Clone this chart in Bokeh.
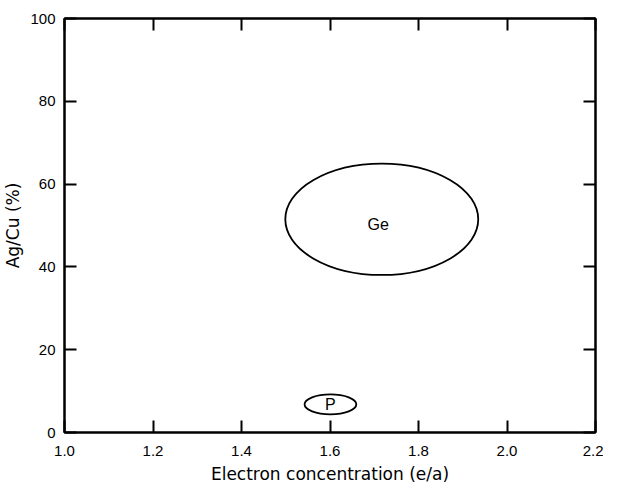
from bokeh.plotting import figure
from bokeh.models import LinearAxis, FixedTicker, Range1d, ColumnDataSource
from bokeh.embed import file_html
from bokeh.resources import INLINE
from bokeh.core.properties import value

# Data
x_ticks = [1.0, 1.2, 1.4, 1.6, 1.8, 2.0, 2.2]
y_ticks = [0, 20, 40, 60, 80, 100]
region_names = ["Ge", "P"]
region_x = [1.717, 1.601]
region_y = [51.5, 6.8]
region_w = [0.436, 0.117]
region_h = [26.9, 4.8]
label_x = [1.709, 1.601]
label_y = [50.2, 6.8]

TICK_FONT = "Liberation Sans"
TITLE_FONT = "DejaVu Sans"

p = figure(frame_width=531, frame_height=414, output_backend="svg", toolbar_location=None,
           x_range=Range1d(1.0, 2.2), y_range=Range1d(0, 100),
           min_border_left=64, min_border_right=8, min_border_top=18, min_border_bottom=55)
p.grid.visible = False
p.outline_line_color = "black"
p.outline_line_width = 2
p.background_fill_color = "white"
p.border_fill_color = "white"

src = ColumnDataSource(dict(x=region_x, y=region_y, w=region_w, h=region_h))
p.ellipse(x="x", y="y", width="w", height="h", source=src,
          fill_color=None, line_color="black", line_width=1.8)

lsrc = ColumnDataSource(dict(x=label_x, y=label_y, t=region_names))
p.text(x="x", y="y", text="t", source=lsrc, text_align="center", text_baseline="middle",
       text_font=value(TICK_FONT), text_font_size="16px", text_color="black")

def style(ax, labels=True):
    ax.axis_line_color = "black"
    ax.axis_line_width = 2
    ax.major_tick_line_color = "black"
    ax.major_tick_line_width = 2
    ax.major_tick_in = 12
    ax.major_tick_out = 0
    ax.minor_tick_line_color = None
    ax.major_label_text_font = TICK_FONT
    ax.major_label_text_font_size = "15px"
    ax.major_label_text_color = "black"
    ax.axis_label_text_font = TITLE_FONT
    ax.axis_label_text_font_size = "17px"
    ax.axis_label_text_font_style = "normal"
    ax.axis_label_text_color = "black"
    if not labels:
        ax.major_label_text_font_size = "0px"
        ax.major_label_text_color = None
        ax.major_label_standoff = 0
        ax.axis_label_standoff = 0

xa = p.xaxis[0]
xa.ticker = FixedTicker(ticks=x_ticks)
xa.axis_label = "Electron concentration (e/a)"
xa.major_label_overrides = {t: f"{t:.1f}" for t in x_ticks}
style(xa)
xa.major_label_standoff = 13
xa.axis_label_standoff = 5

ya = p.yaxis[0]
ya.ticker = FixedTicker(ticks=y_ticks)
ya.axis_label = "Ag/Cu (%)"
style(ya)
ya.major_label_standoff = 9
ya.axis_label_standoff = 4

top = LinearAxis(ticker=FixedTicker(ticks=x_ticks))
style(top, labels=False)
p.add_layout(top, "above")
right = LinearAxis(ticker=FixedTicker(ticks=y_ticks))
style(right, labels=False)
p.add_layout(right, "right")

open("out.html", "w").write(file_html(p, INLINE))
